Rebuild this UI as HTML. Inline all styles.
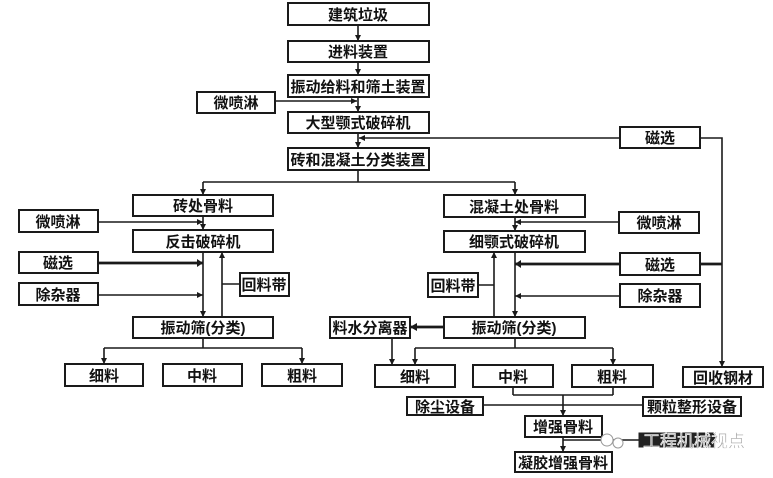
<!DOCTYPE html>
<html>
<head>
<meta charset="utf-8">
<style>
html,body{margin:0;padding:0;background:#fff;}
body{width:773px;height:478px;overflow:hidden;}
svg{display:block;}
text{font-family:"Liberation Sans","Noto Sans CJK SC","WenQuanYi Zen Hei",sans-serif;font-size:15px;font-weight:700;fill:#111;text-anchor:middle;}
.b{fill:#fff;stroke:#1a1a1a;stroke-width:2;}
.l{stroke:#1a1a1a;stroke-width:1.6;fill:none;}
.t{stroke:#1a1a1a;stroke-width:2.8;fill:none;}
.a{fill:#1a1a1a;}
</style>
</head>
<body>
<svg width="773" height="478" viewBox="0 0 773 478" xmlns="http://www.w3.org/2000/svg">
<g>
<path class="l" d="M358 25V41 M358 62V75 M358 97V112 M358 133V148 M358 170V182"/>
<polygon class="a" points="355,35 361,35 358,41"/>
<polygon class="a" points="355,69 361,69 358,75"/>
<polygon class="a" points="355,106 361,106 358,112"/>
<polygon class="a" points="355,142 361,142 358,148"/>
<path class="l" d="M275 101H357"/>
<polygon class="a" points="351,98 351,104 357,101"/>
<path class="l" d="M359 138H620 M700 138H722V367"/>
<polygon class="a" points="365,135 365,141 359,138"/>
<polygon class="a" points="719,361 725,361 722,367"/>
<path class="l" d="M203 182H515 M203 182V195 M515 182V195"/>
<polygon class="a" points="200,189 206,189 203,195"/>
<polygon class="a" points="512,189 518,189 515,195"/>

<path class="l" d="M203 216V230"/>
<polygon class="a" points="200,224 206,224 203,230"/>
<path class="l" d="M98 222H203"/>
<polygon class="a" points="197,219 197,225 203,222"/>
<path class="l" d="M203 252V317"/>
<polygon class="a" points="200,311 206,311 203,317"/>
<path class="l" d="M222 317V252 M222 284H240"/>
<polygon class="a" points="219,258 225,258 222,252"/>
<path class="t" d="M98 263H203"/>
<polygon class="a" points="197,259 197,267 203,263"/>
<path class="l" d="M98 295H203"/>
<polygon class="a" points="197,292 197,298 203,295"/>
<path class="l" d="M203 338V348 M104 348H302 M104 348V364 M302 348V364"/>
<polygon class="a" points="101,358 107,358 104,364"/>
<polygon class="a" points="299,358 305,358 302,364"/>

<path class="l" d="M515 217V231"/>
<polygon class="a" points="512,225 518,225 515,231"/>
<path class="l" d="M619 222H515"/>
<polygon class="a" points="521,219 521,225 515,222"/>
<path class="l" d="M515 252V317"/>
<polygon class="a" points="512,311 518,311 515,317"/>
<path class="l" d="M494 317V252 M478 285H494"/>
<polygon class="a" points="491,258 497,258 494,252"/>
<path class="t" d="M620 264H515 M700 264H722"/>
<polygon class="a" points="521,260 521,268 515,264"/>
<path class="l" d="M620 296H515"/>
<polygon class="a" points="521,293 521,299 515,296"/>
<path class="t" d="M444 327H410"/>
<polygon class="a" points="417,323 417,331 410,327"/>
<path class="l" d="M392 338V365"/>
<polygon class="a" points="389,359 395,359 392,365"/>
<path class="l" d="M515 338V348 M415 348H613 M415 348V365 M613 348V365"/>
<polygon class="a" points="412,359 418,359 415,365"/>
<polygon class="a" points="610,359 616,359 613,365"/>

<path class="l" d="M513 387V395 M613 387V395 M513 395H613 M563 395V416"/>
<polygon class="a" points="560,410 566,410 563,416"/>
<path class="l" d="M483 405H563 M643 405H563"/>
<path class="l" d="M563 437V452"/>
<polygon class="a" points="560,446 566,446 563,452"/>
<path class="l" d="M563 440H639"/>
</g>

<g>
<rect class="b" x="288" y="3" width="141" height="22"/><text x="358" y="20">建筑垃圾</text>
<rect class="b" x="288" y="41" width="141" height="21"/><text x="358" y="57">进料装置</text>
<rect class="b" x="288" y="75" width="141" height="22"/><text x="358" y="92">振动给料和筛土装置</text>
<rect class="b" x="197" y="92" width="78" height="21"/><text x="236" y="108">微喷淋</text>
<rect class="b" x="288" y="112" width="141" height="21"/><text x="358" y="128">大型颚式破碎机</text>
<rect class="b" x="620" y="127" width="80" height="21"/><text x="660" y="143">磁选</text>
<rect class="b" x="288" y="148" width="141" height="22"/><text x="358" y="165">砖和混凝土分类装置</text>

<rect class="b" x="133" y="195" width="140" height="21"/><text x="203" y="211">砖处骨料</text>
<rect class="b" x="444" y="195" width="141" height="22"/><text x="514" y="212">混凝土处骨料</text>
<rect class="b" x="19" y="210" width="79" height="22"/><text x="58" y="227">微喷淋</text>
<rect class="b" x="619" y="212" width="80" height="21"/><text x="659" y="228">微喷淋</text>
<rect class="b" x="133" y="230" width="140" height="22"/><text x="203" y="247">反击破碎机</text>
<rect class="b" x="444" y="231" width="141" height="21"/><text x="514" y="247">细颚式破碎机</text>
<rect class="b" x="19" y="252" width="79" height="21"/><text x="58" y="268">磁选</text>
<rect class="b" x="620" y="253" width="80" height="22"/><text x="660" y="270">磁选</text>
<rect class="b" x="240" y="273" width="49" height="23"/><text x="264" y="290">回料带</text>
<rect class="b" x="428" y="273" width="50" height="24"/><text x="453" y="291">回料带</text>
<rect class="b" x="19" y="283" width="79" height="22"/><text x="58" y="300">除杂器</text>
<rect class="b" x="620" y="284" width="80" height="23"/><text x="660" y="301">除杂器</text>

<rect class="b" x="133" y="317" width="140" height="21"/><text x="203" y="333">振动筛(分类)</text>
<rect class="b" x="330" y="317" width="80" height="21"/><text x="370" y="333">料水分离器</text>
<rect class="b" x="444" y="317" width="141" height="21"/><text x="514" y="333">振动筛(分类)</text>

<rect class="b" x="65" y="364" width="78" height="22"/><text x="104" y="381">细料</text>
<rect class="b" x="163" y="364" width="79" height="22"/><text x="202" y="381">中料</text>
<rect class="b" x="262" y="364" width="80" height="22"/><text x="302" y="381">粗料</text>
<rect class="b" x="375" y="365" width="80" height="22"/><text x="415" y="382">细料</text>
<rect class="b" x="473" y="365" width="80" height="22"/><text x="513" y="382">中料</text>
<rect class="b" x="572" y="365" width="81" height="22"/><text x="612" y="382">粗料</text>
<rect class="b" x="683" y="367" width="80" height="20"/><text x="723" y="383">回收钢材</text>

<rect class="b" x="407" y="397" width="76" height="18"/><text x="445" y="412">除尘设备</text>
<rect class="b" x="643" y="397" width="98" height="19"/><text x="692" y="412">颗粒整形设备</text>
<rect class="b" x="525" y="416" width="77" height="21"/><text x="563" y="432">增强骨料</text>
<rect class="b" x="515" y="452" width="97" height="20"/><text x="563" y="468">凝胶增强骨料</text>

<rect x="639" y="433" width="76" height="14" fill="#222" stroke="#222" stroke-width="1"/>
<circle cx="607" cy="440" r="6" fill="#fff" stroke="#999" stroke-width="1"/>
<circle cx="618" cy="443" r="5" fill="#fff" stroke="#999" stroke-width="1"/>
<text x="694" y="447" style="font-size:17px;font-weight:400;fill:#9a9a9a;stroke:#fff;stroke-width:0.6;">工程机械视点</text>
</g>
</svg>
</body>
</html>
